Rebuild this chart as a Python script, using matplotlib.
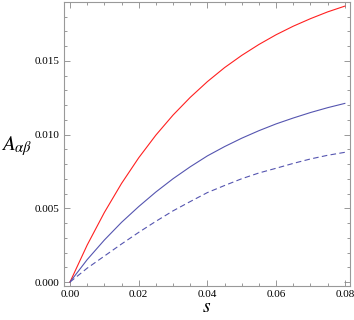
import matplotlib
matplotlib.use("Agg")
import matplotlib.pyplot as plt
from matplotlib.ticker import MultipleLocator

s_vals = [0.000, 0.005, 0.010, 0.015, 0.020, 0.025, 0.030, 0.035, 0.040,
          0.045, 0.050, 0.055, 0.060, 0.065, 0.070, 0.075, 0.080]
red_vals = [0.0, 0.00251, 0.00472, 0.00669, 0.00843, 0.00997, 0.01133, 0.01253, 0.01360,
            0.01455, 0.01538, 0.01612, 0.01678, 0.01736, 0.01787, 0.01833, 0.01872]
blue_vals = [0.0, 0.00152, 0.00285, 0.00405, 0.00512, 0.00611, 0.00701, 0.00782, 0.00856,
             0.00919, 0.00976, 0.01027, 0.01073, 0.01113, 0.01150, 0.01183, 0.01212]
dash_vals = [0.0, 0.00094, 0.00176, 0.00258, 0.00337, 0.00412, 0.00483, 0.00546, 0.00607,
             0.00655, 0.00701, 0.00740, 0.00772, 0.00805, 0.00835, 0.00860, 0.00880]

xticks = [0.00, 0.02, 0.04, 0.06, 0.08]
xticklabels = ["0.00", "0.02", "0.04", "0.06", "0.08"]
yticks = [0.000, 0.005, 0.010, 0.015]
yticklabels = ["0.000", "0.005", "0.010", "0.015"]

plt.rcParams['mathtext.fontset'] = 'stix'
fig = plt.figure(figsize=(3.54, 3.20), dpi=100)
ax = fig.add_axes([64/354, 34/320, 286/354, 284/320])

ax.plot(s_vals, red_vals, color='#ff2020', lw=0.8)
ax.plot(s_vals, blue_vals, color='#5555b0', lw=0.8)
ax.plot(s_vals, dash_vals, color='#5555b0', lw=0.8, dashes=(5, 3))

ax.set_xlim(-0.00175, 0.0815)
ax.set_ylim(-0.00027, 0.0190)

ax.set_xticks(xticks)
ax.set_xticklabels(xticklabels)
ax.set_yticks(yticks)
ax.set_yticklabels(yticklabels)
ax.xaxis.set_minor_locator(MultipleLocator(0.005))
ax.yaxis.set_minor_locator(MultipleLocator(0.001))

for lab in ax.get_xticklabels() + ax.get_yticklabels():
    lab.set_fontfamily('Liberation Serif')
    lab.set_fontsize(8)

ax.tick_params(which='both', direction='in', top=True, right=True, colors='#888888',
               labelcolor='black', width=0.6)
ax.tick_params(which='major', length=4, pad=3)
ax.tick_params(which='minor', length=2)
for sp in ax.spines.values():
    sp.set_color('#999999')
    sp.set_linewidth(0.8)

fig.text(17/354, 1 - 146/320, r'$A_{\alpha\beta}$', fontsize=15, ha='center', va='center')
fig.text(207/354, 1 - 307/320, r'$s$', fontsize=14, ha='center', va='center')

fig.savefig('out.png', dpi=100)
